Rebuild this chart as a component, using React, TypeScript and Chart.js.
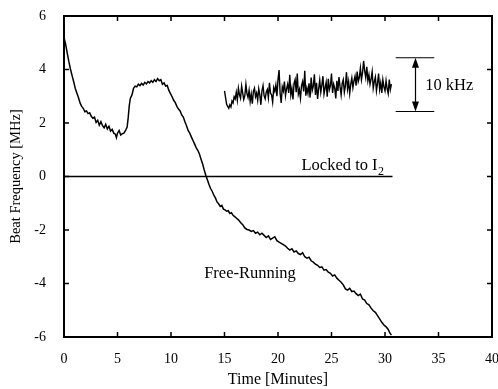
import React, { useEffect, useRef } from "react";
import { Chart, registerables } from "chart.js";

Chart.register(...registerables);

// Free-running beat frequency [MHz] vs time [minutes]
const freeTime = [
  0.0, 0.15, 0.3, 0.45, 0.6, 0.75, 0.9, 1.05, 1.2, 1.35, 1.5, 1.65, 1.8, 1.95, 2.1, 2.25, 2.4, 2.55, 2.7, 2.85,
  3.0, 3.15, 3.3, 3.45, 3.6, 3.75, 3.9, 4.05, 4.2, 4.35, 4.5, 4.65, 4.8, 4.9, 5.0, 5.15, 5.3, 5.45, 5.6, 5.75,
  5.9, 6.0, 6.1, 6.2, 6.35, 6.5, 6.65, 6.8, 6.95, 7.1, 7.25, 7.4, 7.55, 7.7, 7.85, 8.0, 8.15, 8.3, 8.45, 8.6,
  8.75, 8.9, 9.05, 9.2, 9.35, 9.5, 9.65, 9.8, 9.95, 10.1, 10.25, 10.4, 10.55, 10.7, 10.85, 11.0, 11.15, 11.3,
  11.45, 11.6, 11.75, 11.9, 12.05, 12.2, 12.35, 12.5, 12.65, 12.8, 12.95, 13.1, 13.25, 13.4, 13.55, 13.7, 13.85,
  14.0, 14.15, 14.3, 14.45, 14.6, 14.75, 14.9, 15.05, 15.2, 15.35, 15.5, 15.65, 15.8, 15.95, 16.1, 16.3, 16.5,
  16.7, 16.9, 17.1, 17.3, 17.5, 17.7, 17.9, 18.1, 18.3, 18.5, 18.7, 18.9, 19.1, 19.3, 19.5, 19.7, 19.9, 20.1,
  20.3, 20.5, 20.7, 20.9, 21.1, 21.3, 21.5, 21.7, 21.9, 22.1, 22.3, 22.5, 22.7, 22.9, 23.1, 23.3, 23.5, 23.7,
  23.9, 24.1, 24.3, 24.5, 24.7, 24.9, 25.1, 25.3, 25.5, 25.7, 25.9, 26.1, 26.3, 26.5, 26.7, 26.9, 27.1, 27.3,
  27.5, 27.7, 27.9, 28.1, 28.3, 28.5, 28.7, 28.9, 29.1, 29.3, 29.5, 29.7, 29.9, 30.1, 30.3, 30.45, 30.6,
];
const freeBeat = [
  5.2, 4.95, 4.62, 4.3, 4.02, 3.78, 3.55, 3.3, 3.12, 2.95, 2.75, 2.62, 2.55, 2.42, 2.45, 2.35, 2.38, 2.25, 2.18, 2.22,
  2.02, 2.1, 1.92, 2.05, 1.9, 1.82, 1.95, 1.78, 1.88, 1.7, 1.76, 1.62, 1.58, 1.45, 1.62, 1.72, 1.55, 1.6, 1.62, 1.72,
  1.85, 2.2, 2.65, 2.92, 3.05, 3.3, 3.38, 3.35, 3.45, 3.4, 3.48, 3.42, 3.52, 3.46, 3.55, 3.5, 3.58, 3.52, 3.62, 3.55,
  3.66, 3.58, 3.62, 3.45, 3.5, 3.38, 3.4, 3.22, 3.1, 2.98, 2.85, 2.76, 2.62, 2.52, 2.45, 2.3, 2.22, 2.05,
  1.9, 1.72, 1.62, 1.48, 1.35, 1.22, 1.08, 0.98, 0.85, 0.65, 0.48, 0.25, 0.05, -0.12, -0.3, -0.45, -0.55,
  -0.7, -0.8, -0.95, -1.02, -1.12, -1.08, -1.22, -1.25, -1.3, -1.28, -1.38, -1.35, -1.45, -1.5, -1.55, -1.62, -1.72,
  -1.8, -1.92, -1.98, -2.0, -2.05, -2.02, -2.12, -2.08, -2.18, -2.12, -2.2, -2.28, -2.22, -2.35, -2.3, -2.25, -2.4, -2.45,
  -2.5, -2.55, -2.6, -2.68, -2.75, -2.7, -2.82, -2.78, -2.88, -2.92, -2.85, -3.0, -3.05, -3.02, -3.15, -3.2, -3.28, -3.32,
  -3.4, -3.38, -3.5, -3.48, -3.58, -3.62, -3.72, -3.68, -3.8, -3.88, -3.95, -4.05, -4.2, -4.25, -4.18, -4.3, -4.28, -4.38,
  -4.45, -4.4, -4.58, -4.62, -4.75, -4.8, -4.92, -5.02, -5.08, -5.2, -5.32, -5.45, -5.55, -5.62, -5.72, -5.85, -5.93,
];

// Locked-to-I2 reference line
const lockedTime = [0, 30.7];
const lockedBeat = [0, 0];

// Locked trace, magnified (10 kHz scale bar), drawn in the upper right
const detailTime = [
  15.0, 15.1, 15.2, 15.3, 15.4, 15.5, 15.6, 15.7, 15.8, 15.9,
  16.0, 16.1, 16.2, 16.3, 16.4, 16.5, 16.6, 16.7, 16.8, 16.9,
  17.0, 17.1, 17.2, 17.3, 17.4, 17.5, 17.6, 17.7, 17.8, 17.9,
  18.0, 18.1, 18.2, 18.3, 18.4, 18.5, 18.6, 18.7, 18.8, 18.9,
  19.0, 19.1, 19.2, 19.3, 19.4, 19.5, 19.6, 19.7, 19.8, 19.9,
  20.0, 20.1, 20.2, 20.3, 20.4, 20.5, 20.6, 20.7, 20.8, 20.9,
  21.0, 21.1, 21.2, 21.3, 21.4, 21.5, 21.6, 21.7, 21.8, 21.9,
  22.0, 22.1, 22.2, 22.3, 22.4, 22.5, 22.6, 22.7, 22.8, 22.9,
  23.0, 23.1, 23.2, 23.3, 23.4, 23.5, 23.6, 23.7, 23.8, 23.9,
  24.0, 24.1, 24.2, 24.3, 24.4, 24.5, 24.6, 24.7, 24.8, 24.9,
  25.0, 25.1, 25.2, 25.3, 25.4, 25.5, 25.6, 25.7, 25.8, 25.9,
  26.0, 26.1, 26.2, 26.3, 26.4, 26.5, 26.6, 26.7, 26.8, 26.9,
  27.0, 27.1, 27.2, 27.3, 27.4, 27.5, 27.6, 27.7, 27.8, 27.9,
  28.0, 28.1, 28.2, 28.3, 28.4, 28.5, 28.6, 28.7, 28.8, 28.9,
  29.0, 29.1, 29.2, 29.3, 29.4, 29.5, 29.6, 29.7, 29.8, 29.9,
  30.0, 30.1, 30.2, 30.3, 30.4, 30.5, 30.6,
];
const detailBeat = [
  3.2, 2.95, 2.7, 2.62, 2.55, 2.68, 2.6, 2.82, 2.75, 2.98,
  2.9, 3.15, 2.85, 3.3, 3.05, 2.92, 3.38, 3.12, 2.88, 3.02,
  3.45, 3.1, 2.95, 3.22, 2.8, 3.08, 2.72, 3.18, 3.3, 2.98,
  3.12, 2.85, 3.28, 3.05, 2.68, 3.2, 3.4, 3.02, 2.9, 3.15,
  3.25, 2.95, 3.5, 3.12, 3.05, 2.78, 3.32, 3.18, 3.42, 3.0,
  3.62, 3.98, 3.1, 2.75, 3.35, 3.2, 3.55, 3.02, 3.28, 3.45,
  3.12, 3.8, 3.05, 3.3, 2.88, 3.48, 3.62, 3.15, 3.85, 3.08,
  3.25, 2.92, 3.4, 3.55, 3.18, 3.95, 3.02, 3.3, 3.1, 3.48,
  2.95, 3.7, 3.22, 3.38, 3.82, 3.05, 3.5, 2.9, 3.28, 3.6,
  3.15, 3.42, 3.75, 3.08, 3.3, 3.52, 2.98, 3.65, 3.25, 3.4,
  3.85, 3.12, 3.45, 3.3, 2.92, 3.58, 3.2, 3.72, 3.35, 3.05,
  3.48, 3.62, 3.15, 3.4, 3.9, 3.28, 3.55, 3.1, 3.45, 3.68,
  3.32, 3.58, 3.75, 3.4, 3.92, 3.55, 3.7, 4.05, 3.62, 3.88,
  4.32, 3.95, 3.7, 4.1, 3.58, 3.8, 3.45, 3.65, 3.92, 3.3,
  3.55, 3.72, 3.2, 3.48, 3.85, 3.25, 3.5, 3.12, 3.62, 3.35,
  3.2, 3.58, 3.28, 3.1, 3.62, 3.25, 3.45,
];

// 10 kHz scale bar (data coordinates)
const barTime = [31.0, 34.6];
const barArrowTime = 32.85;
const barBeat = [4.44, 2.43];

const xTicks = [5, 10, 15, 20, 25, 30, 35];
const yTicks = [-4, -2, 0, 2, 4];

const FONT = '"Liberation Serif", "Times New Roman", serif';

const decorPlugin = {
  id: "decor",
  afterDatasetsDraw(chart: any) {
    const { ctx, chartArea: a, scales } = chart;
    const xs = scales.x;
    const ys = scales.y;
    ctx.save();
    ctx.strokeStyle = "#000";
    ctx.fillStyle = "#000";
    // frame
    ctx.lineWidth = 2;
    ctx.strokeRect(a.left, a.top, a.right - a.left, a.bottom - a.top);
    // inward ticks
    ctx.lineWidth = 1.5;
    const tl = 5;
    ctx.beginPath();
    xTicks.forEach((v) => {
      const px = xs.getPixelForValue(v);
      ctx.moveTo(px, a.bottom);
      ctx.lineTo(px, a.bottom - tl);
      ctx.moveTo(px, a.top);
      ctx.lineTo(px, a.top + tl);
    });
    yTicks.forEach((v) => {
      const py = ys.getPixelForValue(v);
      ctx.moveTo(a.left, py);
      ctx.lineTo(a.left + tl, py);
      ctx.moveTo(a.right, py);
      ctx.lineTo(a.right - tl, py);
    });
    ctx.stroke();

    // 10 kHz scale bar
    const x0 = xs.getPixelForValue(barTime[0]);
    const x1 = xs.getPixelForValue(barTime[1]);
    const xa = xs.getPixelForValue(barArrowTime);
    const yt = ys.getPixelForValue(barBeat[0]);
    const yb = ys.getPixelForValue(barBeat[1]);
    ctx.lineWidth = 1.2;
    ctx.beginPath();
    ctx.moveTo(x0, yt);
    ctx.lineTo(x1, yt);
    ctx.moveTo(x0, yb);
    ctx.lineTo(x1, yb);
    ctx.moveTo(xa, yt + 4);
    ctx.lineTo(xa, yb - 4);
    ctx.stroke();
    ctx.beginPath();
    ctx.moveTo(xa, yt);
    ctx.lineTo(xa - 3.5, yt + 10);
    ctx.lineTo(xa + 3.5, yt + 10);
    ctx.closePath();
    ctx.moveTo(xa, yb);
    ctx.lineTo(xa - 3.5, yb - 10);
    ctx.lineTo(xa + 3.5, yb - 10);
    ctx.closePath();
    ctx.fill();

    // text labels
    ctx.textAlign = "left";
    ctx.textBaseline = "middle";
    ctx.font = `16.5px ${FONT}`;
    ctx.fillText("10 kHz", xs.getPixelForValue(33.75), ys.getPixelForValue(3.38));

    ctx.textBaseline = "alphabetic";
    ctx.font = `16.5px ${FONT}`;
    const lx = xs.getPixelForValue(22.2);
    const ly = ys.getPixelForValue(0.26);
    ctx.fillText("Locked to I", lx, ly);
    const w = ctx.measureText("Locked to I").width;
    ctx.font = `12px ${FONT}`;
    ctx.fillText("2", lx + w + 0.5, ly + 5);

    ctx.font = `16.5px ${FONT}`;
    ctx.fillText("Free-Running", xs.getPixelForValue(13.1), ys.getPixelForValue(-3.8));
    ctx.restore();
  },
};

export default function App() {
  const ref = useRef<HTMLCanvasElement>(null);
  useEffect(() => {
    if (!ref.current) return;
    const toXY = (xsArr: number[], ysArr: number[]) => xsArr.map((x, i) => ({ x, y: ysArr[i] }));
    const chart = new Chart(ref.current, {
      type: "line",
      data: {
        datasets: [
          {
            label: "Free-Running",
            data: toXY(freeTime, freeBeat),
            borderColor: "#000",
            borderWidth: 1.5,
            pointRadius: 0,
            tension: 0,
          },
          {
            label: "Locked to I2",
            data: toXY(lockedTime, lockedBeat),
            borderColor: "#000",
            borderWidth: 1.3,
            pointRadius: 0,
          },
          {
            label: "Locked (10 kHz scale)",
            data: toXY(detailTime, detailBeat),
            borderColor: "#000",
            borderWidth: 1.4,
            pointRadius: 0,
            tension: 0,
          },
        ],
      },
      options: {
        animation: false,
        responsive: false,
        layout: { padding: { top: 16, right: 6, bottom: 0, left: 0 } },
        plugins: { legend: { display: false }, tooltip: { enabled: false } },
        scales: {
          x: {
            type: "linear",
            min: 0,
            max: 40,
            grid: { display: false },
            border: { display: false },
            ticks: {
              stepSize: 5,
              color: "#000",
              padding: 6,
              maxRotation: 0,
              font: { family: FONT, size: 14 },
            },
            title: {
              display: true,
              text: "Time [Minutes]",
              color: "#000",
              font: { family: FONT, size: 16 },
              padding: { top: 0, bottom: 0 },
            },
            afterFit(scale: any) {
              scale.height = 52;
              scale.paddingLeft = 0;
              scale.paddingRight = 0;
            },
          },
          y: {
            type: "linear",
            min: -6,
            max: 6,
            grid: { display: false },
            border: { display: false },
            ticks: {
              stepSize: 2,
              color: "#000",
              padding: 10,
              font: { family: FONT, size: 14 },
            },
            title: {
              display: true,
              text: "Beat Frequency [MHz]",
              color: "#000",
              font: { family: FONT, size: 14.5 },
              padding: { top: 7, bottom: 0 },
            },
            afterFit(scale: any) {
              scale.width = 64;
              scale.paddingTop = 0;
              scale.paddingBottom = 0;
            },
          },
        },
      },
      plugins: [decorPlugin],
    });
    return () => chart.destroy();
  }, []);
  return (
    <div style={{ position: "fixed", left: 0, top: 0, width: 498, height: 389, background: "#fff" }}>
      <canvas ref={ref} width={498} height={389} />
    </div>
  );
}
